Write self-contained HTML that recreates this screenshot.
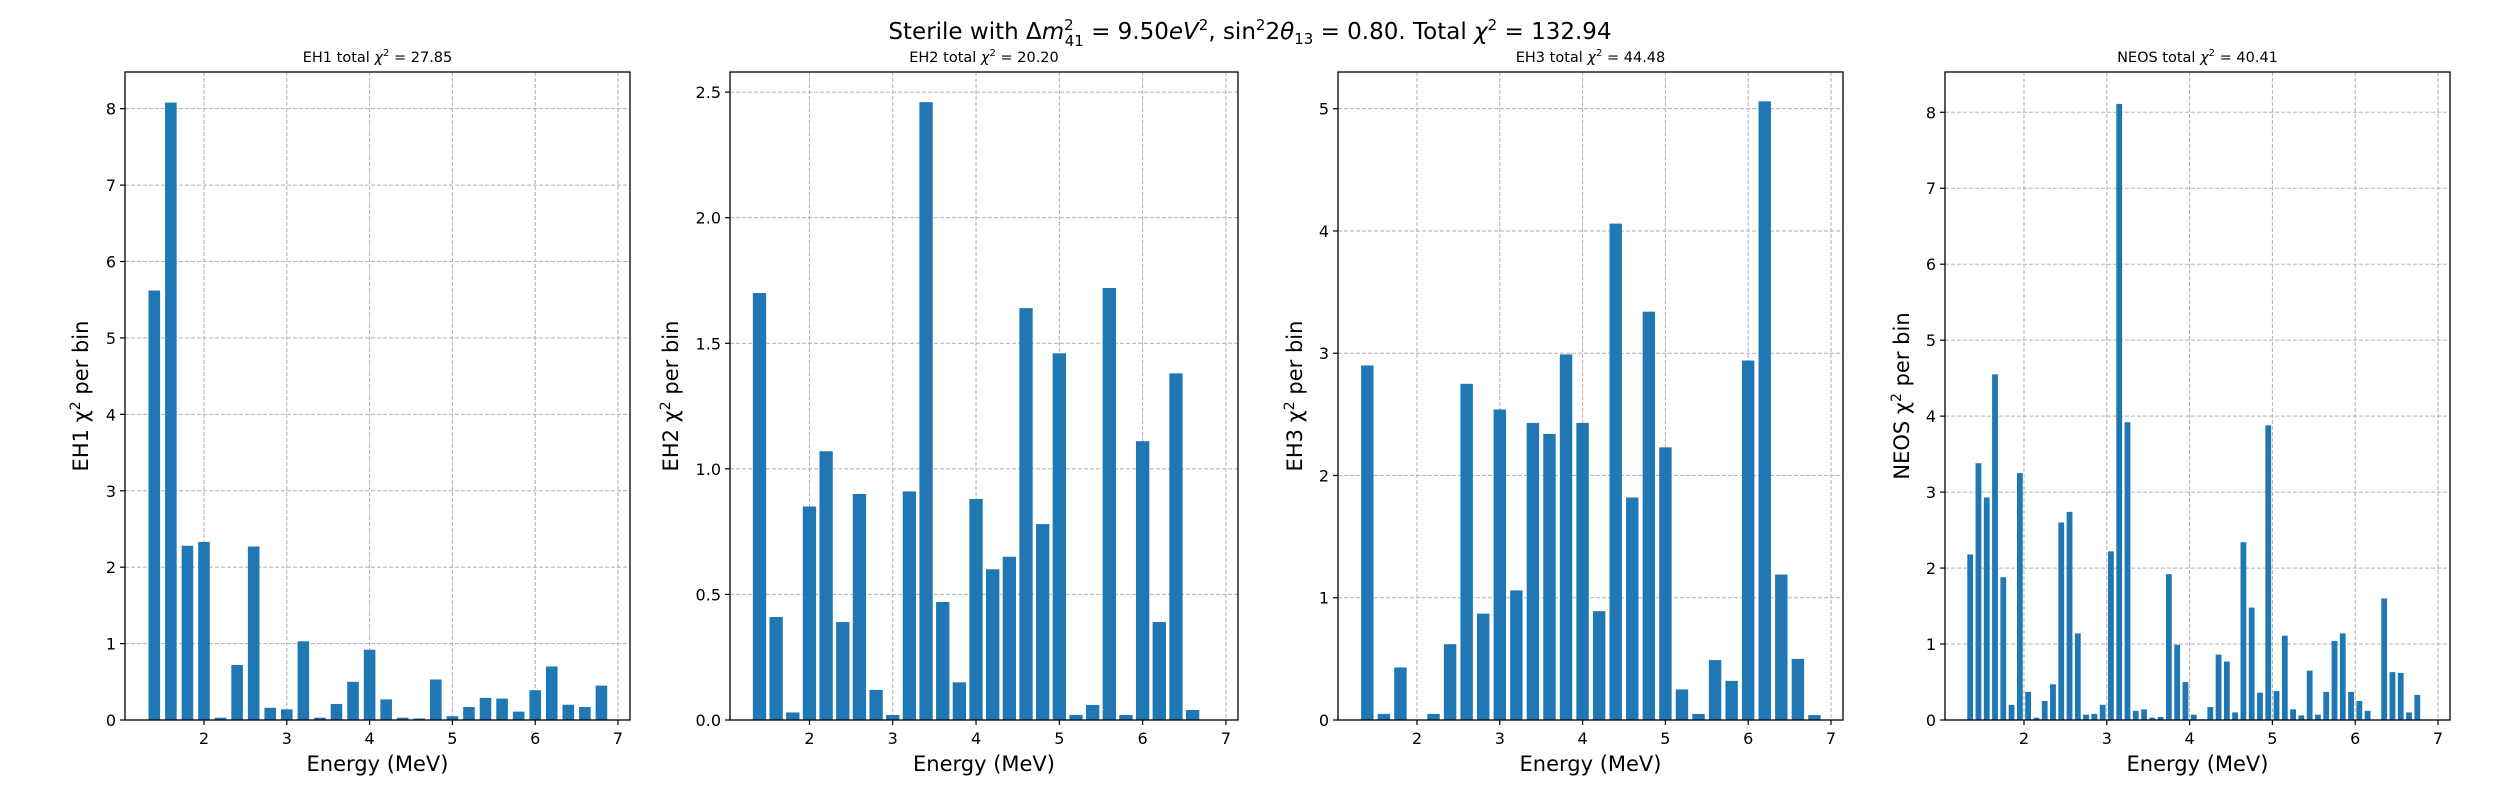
<!DOCTYPE html>
<html><head><meta charset="utf-8"><style>
html,body{margin:0;padding:0;background:#fff}
svg{display:block;font-family:"DejaVu Sans","Liberation Sans",sans-serif}
</style></head><body>
<svg id="fig" width="2500" height="800" viewBox="0 0 2500 800">
<text x="1250" y="39" text-anchor="middle" font-size="23">Sterile with Δ<tspan font-style="italic">m</tspan><tspan font-size="15" dy="-9">2</tspan><tspan font-size="15" dx="-9" dy="16">41</tspan><tspan dy="-7"> = 9.50</tspan><tspan font-style="italic">eV</tspan><tspan font-size="15" dy="-9">2</tspan><tspan dy="9">, sin</tspan><tspan font-size="15" dy="-9">2</tspan><tspan dy="9">2</tspan><tspan font-style="italic">θ</tspan><tspan font-size="15" dy="5">13</tspan><tspan dy="-5"> = 0.80. Total </tspan><tspan font-style="italic">χ</tspan><tspan font-size="15" dy="-9">2</tspan><tspan dy="9"> = 132.94</tspan></text>
</svg>
<script>
// EH1: bins 1.4..6.8 step 0.2
const eh1Energy=[1.4,1.6,1.8,2.0,2.2,2.4,2.6,2.8,3.0,3.2,3.4,3.6,3.8,4.0,4.2,4.4,4.6,4.8,5.0,5.2,5.4,5.6,5.8,6.0,6.2,6.4,6.6,6.8];
const eh1Chi2=[5.62,8.08,2.28,2.33,0.03,0.72,2.27,0.16,0.14,1.03,0.03,0.21,0.50,0.92,0.27,0.03,0.02,0.53,0.05,0.17,0.29,0.28,0.11,0.39,0.70,0.20,0.17,0.45];
const eh2Energy=[1.4,1.6,1.8,2.0,2.2,2.4,2.6,2.8,3.0,3.2,3.4,3.6,3.8,4.0,4.2,4.4,4.6,4.8,5.0,5.2,5.4,5.6,5.8,6.0,6.2,6.4,6.6];
const eh2Chi2=[1.70,0.41,0.03,0.85,1.07,0.39,0.90,0.12,0.02,0.91,2.46,0.47,0.15,0.88,0.60,0.65,1.64,0.78,1.46,0.02,0.06,1.72,0.02,1.11,0.39,1.38,0.04];
const eh3Energy=[1.4,1.6,1.8,2.0,2.2,2.4,2.6,2.8,3.0,3.2,3.4,3.6,3.8,4.0,4.2,4.4,4.6,4.8,5.0,5.2,5.4,5.6,5.8,6.0,6.2,6.4,6.6,6.8];
const eh3Chi2=[2.90,0.05,0.43,0,0.05,0.62,2.75,0.87,2.54,1.06,2.43,2.34,2.99,2.43,0.89,4.06,1.82,3.34,2.23,0.25,0.05,0.49,0.32,2.94,5.06,1.19,0.50,0.04];
const neosEnergy=[1.35,1.45,1.55,1.65,1.75,1.85,1.95,2.05,2.15,2.25,2.35,2.45,2.55,2.65,2.75,2.85,2.95,3.05,3.15,3.25,3.35,3.45,3.55,3.65,3.75,3.85,3.95,4.05,4.15,4.25,4.35,4.45,4.55,4.65,4.75,4.85,4.95,5.05,5.15,5.25,5.35,5.45,5.55,5.65,5.75,5.85,5.95,6.05,6.15,6.25,6.35,6.45,6.55,6.65,6.75];
const neosChi2=[2.18,3.38,2.93,4.55,1.88,0.20,3.25,0.37,0.03,0.25,0.47,2.60,2.74,1.14,0.07,0.08,0.20,2.22,8.11,3.92,0.12,0.14,0.03,0.04,1.92,0.99,0.50,0.07,0.01,0.17,0.86,0.77,0.10,2.34,1.48,0.36,3.88,0.38,1.11,0.14,0.06,0.65,0.07,0.37,1.04,1.14,0.37,0.25,0.12,0,1.60,0.63,0.62,0.10,0.33];
const xTicks=[2,3,4,5,6,7];
const eh1YTicks=[0,1,2,3,4,5,6,7,8];
const eh2YTicks=[0,0.5,1.0,1.5,2.0,2.5];
const eh3YTicks=[0,1,2,3,4,5];
const neosYTicks=[0,1,2,3,4,5,6,7,8];

const NS="http://www.w3.org/2000/svg";
const svg=document.getElementById('fig');
function mk(tag,attrs,parent){const e=document.createElementNS(NS,tag);for(const k in attrs)e.setAttribute(k,attrs[k]);(parent||svg).appendChild(e);return e;}

const panels=[
 {key:'eh1',label:'EH1',total:'27.85',E:eh1Energy,V:eh1Chi2,yt:eh1YTicks,ymax:8.48,dec:0,left:125,right:630,xmin:1.046,xmax:7.145,bw:0.14,ylx:80},
 {key:'eh2',label:'EH2',total:'20.20',E:eh2Energy,V:eh2Chi2,yt:eh2YTicks,ymax:2.58,dec:1,left:730,right:1238,xmin:1.046,xmax:7.145,bw:0.16,ylx:670},
 {key:'eh3',label:'EH3',total:'44.48',E:eh3Energy,V:eh3Chi2,yt:eh3YTicks,ymax:5.30,dec:0,left:1338,right:1843,xmin:1.046,xmax:7.145,bw:0.15,ylx:1294},
 {key:'neos',label:'NEOS',total:'40.41',E:neosEnergy,V:neosChi2,yt:neosYTicks,ymax:8.53,dec:0,left:1945,right:2450,xmin:1.046,xmax:7.145,bw:0.07,ylx:1901}
];
const TOP=72,BOT=720;
panels.forEach(p=>{
  const g=mk('g',{});
  
  
  const xs=v=>p.left+(v-p.xmin)/(p.xmax-p.xmin)*(p.right-p.left);
  const ys=v=>BOT-v/p.ymax*(BOT-TOP);
  // grid
  xTicks.forEach(t=>{
    const l=mk('line',{x1:xs(t),x2:xs(t),y1:TOP,y2:BOT,stroke:'#b0b0b0','stroke-width':1,'stroke-dasharray':'4,2'},g);
    
    
  });
  p.yt.forEach(t=>{
    const l=mk('line',{x1:p.left,x2:p.right,y1:ys(t),y2:ys(t),stroke:'#b0b0b0','stroke-width':1,'stroke-dasharray':'4,2'},g);
    
    
  });
  // bars
  p.E.forEach((e,i)=>{
    const v=p.V[i];
    const x0=xs(e-p.bw/2),x1=xs(e+p.bw/2);
    const r=mk('rect',{x:x0,y:ys(v),width:x1-x0,height:BOT-ys(v),fill:'#1f77b4'},g);
    
    
  });
  // frame
  const f=mk('rect',{x:p.left,y:TOP,width:p.right-p.left,height:BOT-TOP,fill:'none',stroke:'#000','stroke-width':1.3},g);
  
  
  // x ticks
  xTicks.forEach(t=>{
    mk('line',{x1:xs(t),x2:xs(t),y1:BOT,y2:BOT+5,stroke:'#000','stroke-width':1.2},g);
    const tx=mk('text',{x:xs(t),y:BOT+24,'text-anchor':'middle','font-size':16},g);
    tx.textContent=String(t);
    
    
  });
  p.yt.forEach(t=>{
    mk('line',{x1:p.left-5,x2:p.left,y1:ys(t),y2:ys(t),stroke:'#000','stroke-width':1.2},g);
    const tx=mk('text',{x:p.left-9,y:ys(t)+6,'text-anchor':'end','font-size':16},g);
    tx.textContent=t.toFixed(p.dec);
    
    
  });
  const cx=(p.left+p.right)/2;
  const ti=mk('text',{x:cx,y:62,'text-anchor':'middle','font-size':14.5},g);
  ti.innerHTML=p.label+' total <tspan font-style="italic">χ</tspan><tspan font-size="10" dy="-6">2</tspan><tspan dy="6"> = '+p.total+'</tspan>';
  
  
  const xl=mk('text',{x:cx,y:771,'text-anchor':'middle','font-size':21},g);
  xl.textContent='Energy (MeV)';
  
  
  const yl=mk('text',{x:0,y:0,'text-anchor':'middle','font-size':21,transform:'translate('+(p.ylx+8)+',396) rotate(-90)'},g);
  yl.innerHTML=p.label+' χ<tspan font-size="14" dy="-8">2</tspan><tspan dy="8"> per bin</tspan>';
  
  
});
</script>
</body></html>
